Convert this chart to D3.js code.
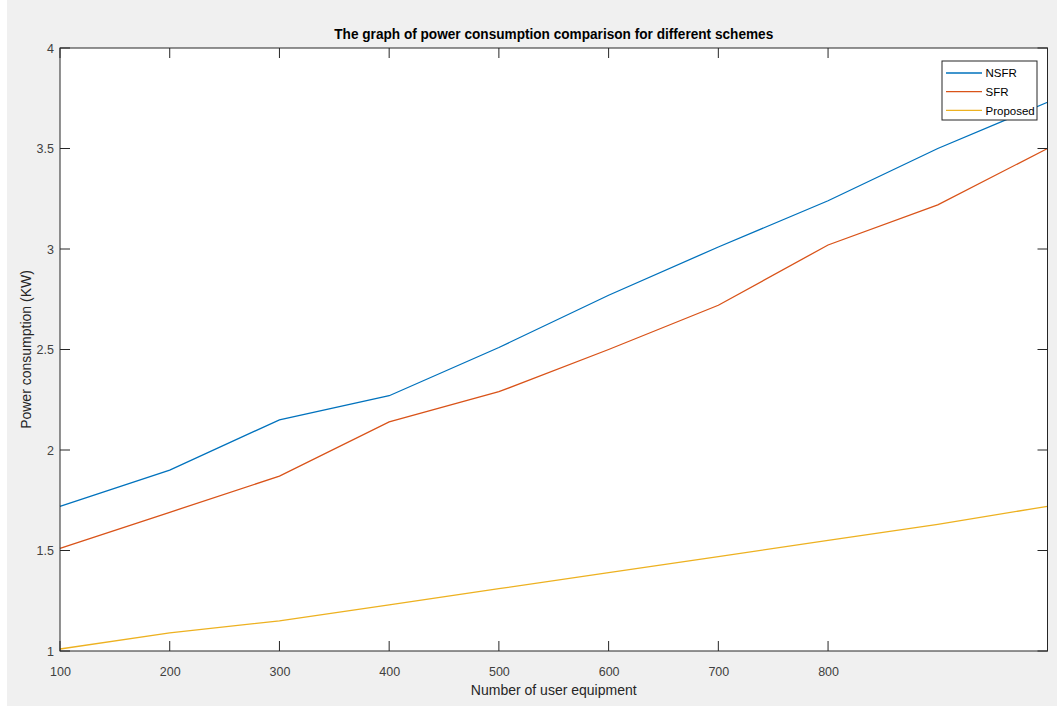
<!DOCTYPE html>
<html>
<head>
<meta charset="utf-8">
<script src="https://cdn.jsdelivr.net/npm/d3@7"></script>
<style>
    body { margin: 0; background: #ffffff; }
    #chart { position: absolute; left: 0; top: 0; }
    text { font-family: "Liberation Sans", Arial, sans-serif; fill: #262626; }
</style>
</head>
<body>
<div id="chart"></div>
<script>
const xValues = [100, 200, 300, 400, 500, 600, 700, 800, 900, 1000];
const nsfrValues = [1.72, 1.90, 2.15, 2.27, 2.51, 2.77, 3.01, 3.24, 3.50, 3.73];
const sfrValues = [1.51, 1.69, 1.87, 2.14, 2.29, 2.50, 2.72, 3.02, 3.22, 3.50];
const proposedValues = [1.01, 1.09, 1.15, 1.23, 1.31, 1.39, 1.47, 1.55, 1.63, 1.72];
const seriesNames = ["NSFR", "SFR", "Proposed"];
const xTickValues = [100, 200, 300, 400, 500, 600, 700, 800];
const yTickValues = [1, 1.5, 2, 2.5, 3, 3.5, 4];

const width = 1057;
const height = 706;
const margin = { top: 48, right: 9.5, bottom: 55, left: 60 };
const colors = ["#0072bd", "#d95319", "#edb120"];
const axisColor = "#262626";
const tickLen = 10;

function setGraph(graphId) {
    let svg = d3.select(`#${ graphId }`)
        .append("svg")
            .attr("width", width)
            .attr("height", height);

    // figure background
    svg.append("rect")
        .attr("x", 7).attr("y", 0)
        .attr("width", width - 7).attr("height", height)
        .attr("fill", "#f0f0f0");

    let scaleX = d3.scaleLinear()
        .domain([100, 1000])
        .range([margin.left, width - margin.right]);
    let scaleY = d3.scaleLinear()
        .domain([1, 4])
        .range([height - margin.bottom, margin.top]);

    svg.append("rect")
        .attr("x", margin.left).attr("y", margin.top)
        .attr("width", scaleX(1000) - scaleX(100))
        .attr("height", scaleY(1) - scaleY(4))
        .attr("fill", "#ffffff");

    plotLines(svg, scaleX, scaleY);
    createAxes(svg, scaleX, scaleY);
    createLegend(svg);

    svg.append("text")
        .attr("x", (scaleX(100) + scaleX(1000)) / 2)
        .attr("y", 39)
        .attr("text-anchor", "middle")
        .attr("font-size", 14)
        .attr("font-weight", "bold")
        .attr("textLength", 439)
        .attr("lengthAdjust", "spacingAndGlyphs")
        .style("fill", "#000000")
        .text("The graph of power consumption comparison for different schemes");

    svg.append("text")
        .attr("x", (scaleX(100) + scaleX(1000)) / 2)
        .attr("y", 695)
        .attr("text-anchor", "middle")
        .attr("font-size", 14)
        .text("Number of user equipment");

    let yLabelX = 31;
    let yLabelY = (scaleY(1) + scaleY(4)) / 2;
    svg.append("text")
        .attr("x", yLabelX)
        .attr("y", yLabelY)
        .attr("transform", `rotate(-90 ${ yLabelX } ${ yLabelY })`)
        .attr("text-anchor", "middle")
        .attr("font-size", 14)
        .text("Power consumption (KW)");
}

function plotLines(svg, scaleX, scaleY) {
    let seriesList = [nsfrValues, sfrValues, proposedValues];
    let line = d3.line()
        .x((d, i) => scaleX(xValues[i]))
        .y(d => scaleY(d));

    svg.selectAll(".series")
        .data(seriesList)
        .enter()
        .append("path")
            .attr("class", "series")
            .attr("d", d => line(d))
            .attr("fill", "none")
            .attr("stroke", (d, i) => colors[i])
            .attr("stroke-width", 1.3);
}

function createAxes(svg, scaleX, scaleY) {
    let x0 = scaleX(100), x1 = scaleX(1000);
    let y0 = scaleY(1), y1 = scaleY(4);

    let bottomAxis = d3.axisBottom(scaleX)
        .tickValues(xTickValues)
        .tickSize(0)
        .tickPadding(16)
        .tickFormat(d => d.toString());
    let leftAxis = d3.axisLeft(scaleY)
        .tickValues(yTickValues)
        .tickSize(0)
        .tickPadding(6)
        .tickFormat(d => d.toString());

    let gx = svg.append("g")
        .attr("transform", `translate(0, ${ y0 })`)
        .call(bottomAxis);
    let gy = svg.append("g")
        .attr("transform", `translate(${ x0 }, 0)`)
        .call(leftAxis);
    [gx, gy].forEach(g => {
        g.select(".domain").remove();
        g.selectAll("text")
            .attr("font-size", 12.5)
            .attr("font-family", "Liberation Sans, Arial, sans-serif")
            .style("fill", "#404040");
    });

    // inward ticks on all four sides
    let ticks = svg.append("g")
        .attr("stroke", axisColor)
        .attr("stroke-width", 1);
    xTickValues.forEach(v => {
        ticks.append("line")
            .attr("x1", scaleX(v)).attr("x2", scaleX(v))
            .attr("y1", y0).attr("y2", y0 - tickLen);
        ticks.append("line")
            .attr("x1", scaleX(v)).attr("x2", scaleX(v))
            .attr("y1", y1).attr("y2", y1 + tickLen);
    });
    yTickValues.forEach(v => {
        ticks.append("line")
            .attr("x1", x0).attr("x2", x0 + tickLen)
            .attr("y1", scaleY(v)).attr("y2", scaleY(v));
        ticks.append("line")
            .attr("x1", x1).attr("x2", x1 - tickLen)
            .attr("y1", scaleY(v)).attr("y2", scaleY(v));
    });

    svg.append("rect")
        .attr("x", x0).attr("y", y1)
        .attr("width", x1 - x0).attr("height", y0 - y1)
        .attr("fill", "none")
        .attr("stroke", axisColor)
        .attr("stroke-width", 1);
}

function createLegend(svg) {
    let legend = svg.append("g")
        .attr("transform", "translate(942, 61)");

    legend.append("rect")
        .attr("x", 0).attr("y", 0)
        .attr("width", 95).attr("height", 59)
        .attr("fill", "#ffffff")
        .attr("stroke", axisColor)
        .attr("stroke-width", 1);

    let rows = legend.selectAll(".entry")
        .data(seriesNames)
        .enter()
        .append("g")
            .attr("class", "entry")
            .attr("transform", (d, i) => `translate(0, ${ 12 + i * 18.7 })`);

    rows.append("line")
        .attr("x1", 4).attr("x2", 40)
        .attr("y1", 0).attr("y2", 0)
        .attr("stroke", (d, i) => colors[i])
        .attr("stroke-width", 1.3);

    rows.append("text")
        .attr("x", 43.5)
        .attr("y", 0)
        .attr("dy", "0.36em")
        .attr("font-size", 11.5)
        .style("fill", "#000000")
        .text(d => d);
}

setGraph("chart");
</script>
</body>
</html>
